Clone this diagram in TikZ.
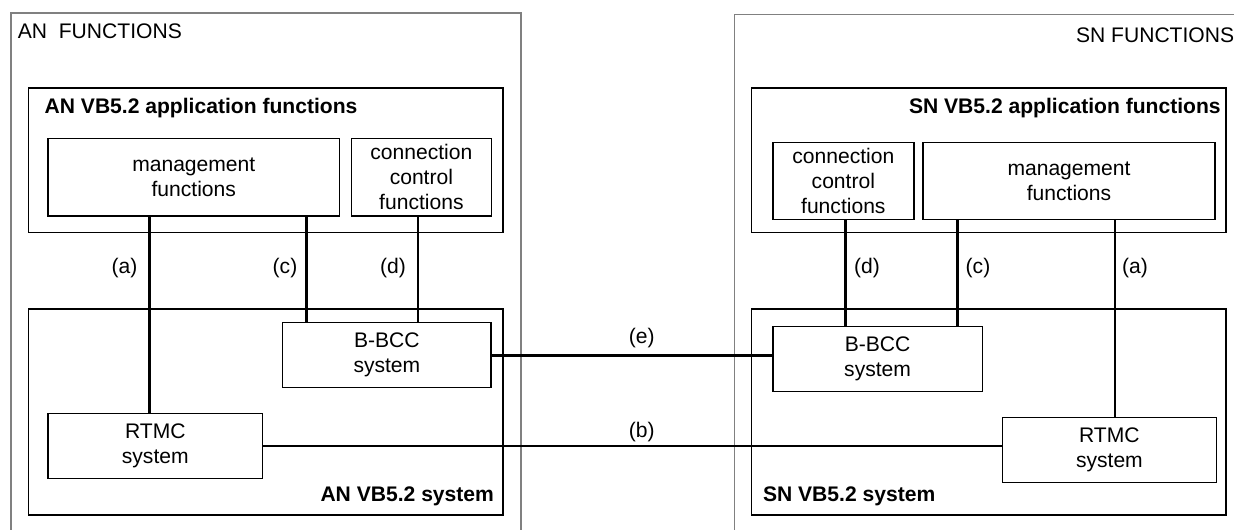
\documentclass[tikz,border=0pt]{standalone}
\usepackage{fontspec}
\setmainfont{Liberation Sans}

\begin{document}
\begin{tikzpicture}[x=0.02cm,y=-0.02cm,
    box/.style={draw,line width=0.75pt,align=center,inner sep=0pt,anchor=north west,
      font=\fontsize{12}{14.2}\selectfont},
    frame/.style={draw,line width=1pt},
    outer/.style={draw=gray,line width=0.7pt},
    title/.style={inner sep=0pt,font=\fontsize{12}{14}\selectfont\bfseries},
    plain/.style={inner sep=0pt,font=\fontsize{12}{14}\selectfont},
    link/.style={line width=1.7pt},
    thinlink/.style={line width=1pt}]
    \useasboundingbox (0,0) rectangle (1234,529);

    % AN side
    \draw[outer] (11,545) -- (11,13) -- (521,13) -- (521,545);
    \node[plain,anchor=base west] (anfun) at (17.5,38) {AN\ \ FUNCTIONS};
    \draw[frame] (28.5,88) rectangle (503.3,232.5);
    \draw[frame] (28.5,309) rectangle (503.3,515);
    \node[title,anchor=base west] (anapp) at (44.3,113) {AN VB5.2 application functions};
    \node[title,anchor=base east] (ansys) at (494.3,501) {AN VB5.2 system};

    \node[box,minimum width=5.83cm,minimum height=1.55cm] (mgmtA) at (47.4,138) {management\\functions};
    \node[box,minimum width=2.81cm,minimum height=1.55cm] (ccA) at (350.5,138) {connection\\control\\functions};
    \node[box,minimum width=4.17cm,minimum height=1.30cm] (bbccA) at (282,322) {B-BCC\\system};
    \node[box,minimum width=4.29cm,minimum height=1.30cm] (rtmcA) at (47.4,413) {RTMC\\system};

    % SN side
    \draw[outer] (734.6,545) -- (734.6,14.7) -- (1250,14.7);
    \node[plain,anchor=base west] (snfun) at (1075.7,42) {SN FUNCTIONS};
    \draw[frame] (751.6,88) rectangle (1226,232.5);
    \draw[frame] (751.6,309) rectangle (1226,515);
    \node[title,anchor=base east] (snapp) at (1221,113) {SN VB5.2 application functions};
    \node[title,anchor=base west] (snsys) at (762.7,501) {SN VB5.2 system};

    \node[box,minimum width=2.82cm,minimum height=1.54cm] (ccS) at (772.2,142) {connection\\control\\functions};
    \node[box,minimum width=5.84cm,minimum height=1.54cm] (mgmtS) at (922.4,142) {management\\functions};
    \node[box,minimum width=4.19cm,minimum height=1.30cm] (bbccS) at (772.2,326) {B-BCC\\system};
    \node[box,minimum width=4.29cm,minimum height=1.30cm] (rtmcS) at (1001.5,417) {RTMC\\system};

    % x positions of the vertical links
    \coordinate (xaA) at (149.5,0);
    \coordinate (xcA) at (306.2,0);
    \coordinate (xdA) at (418,0);
    \coordinate (xdS) at (845.3,0);
    \coordinate (xcS) at (957.2,0);
    \coordinate (xaS) at (1115,0);

    % links
    \draw[link] (mgmtA.south -| xaA) -- (rtmcA.north -| xaA);
    \draw[link] (mgmtA.south -| xcA) -- (bbccA.north -| xcA);
    \draw[link] (ccA.south -| xdA) -- (bbccA.north -| xdA);
    \draw[link] (ccS.south -| xdS) -- (bbccS.north -| xdS);
    \draw[link] (mgmtS.south -| xcS) -- (bbccS.north -| xcS);
    \draw[thinlink] (mgmtS.south -| xaS) -- (rtmcS.north -| xaS);
    \draw[link] (bbccA.east) -- (bbccA.east -| bbccS.west);
    \draw[thinlink] (rtmcA.east) -- (rtmcA.east -| rtmcS.west);

    \node[plain] (la1) at (124.5,268) {(a)};
    \node[plain] (lc1) at (285,268) {(c)};
    \node[plain] (ld1) at (393,268) {(d)};
    \node[plain] (ld2) at (867,268) {(d)};
    \node[plain] (lc2) at (978,268) {(c)};
    \node[plain] (la2) at (1135,268) {(a)};
    \node[plain] (le) at (641.7,338) {(e)};
    \node[plain] (lb) at (641.7,432) {(b)};
\end{tikzpicture}
\end{document}
